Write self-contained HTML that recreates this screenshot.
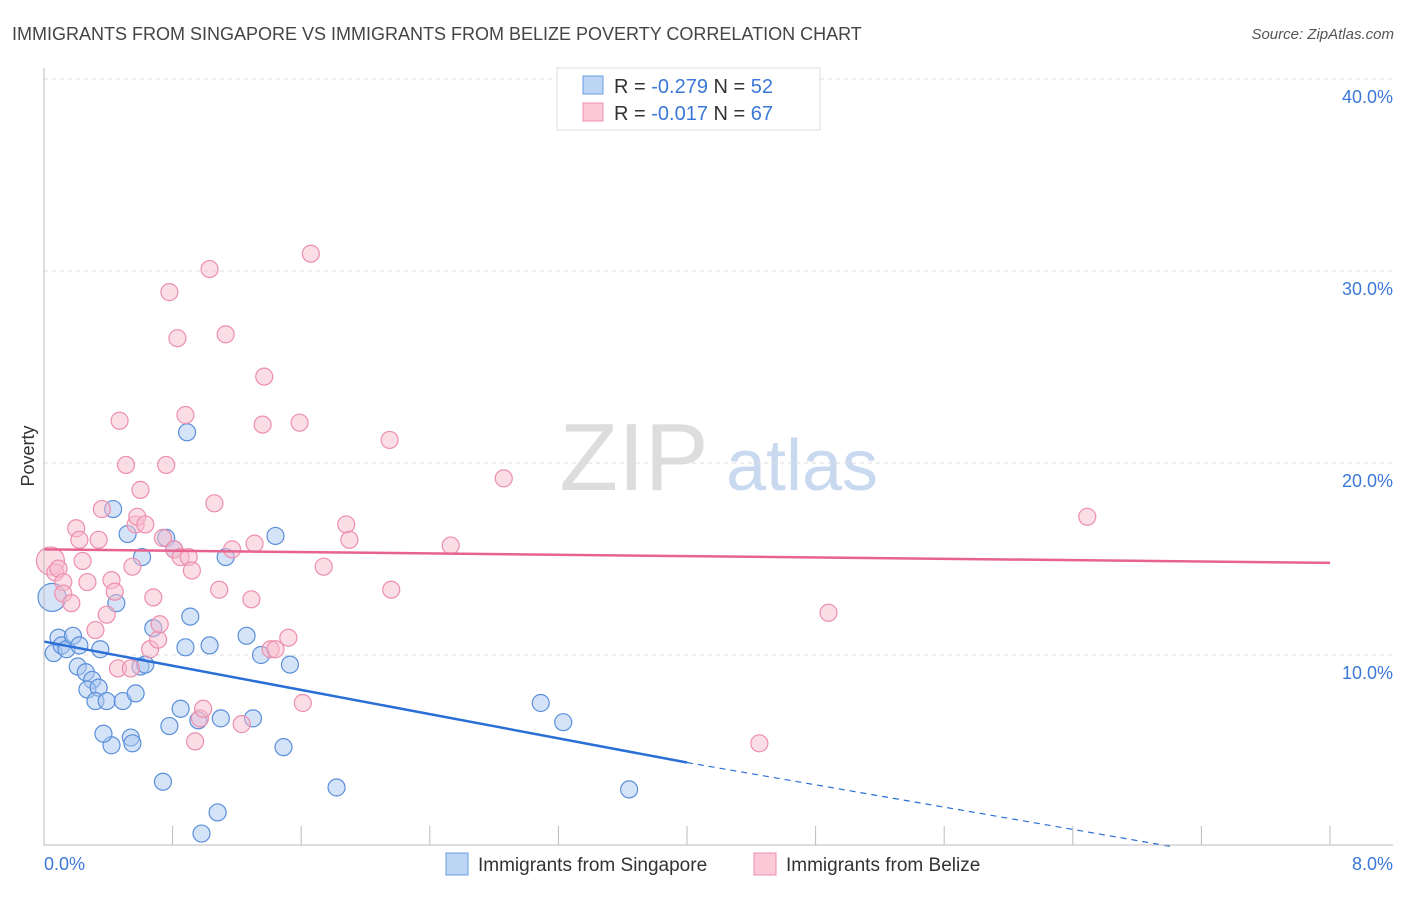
<!DOCTYPE html>
<html><head><meta charset="utf-8"><style>
body{margin:0;background:#fff;font-family:"Liberation Sans",sans-serif}
svg text{font-family:"Liberation Sans",sans-serif}
</style></head><body>
<svg id="c" width="1406" height="892">
<text x="12" y="40" font-size="18" fill="#444">IMMIGRANTS FROM SINGAPORE VS IMMIGRANTS FROM BELIZE POVERTY CORRELATION CHART</text>
<text x="1394" y="39" font-size="15" font-style="italic" fill="#555" text-anchor="end">Source: ZipAtlas.com</text>
<text x="634" y="490" font-size="96" fill="#ddd" font-family="Liberation Serif" text-anchor="middle">ZIP</text>
<text x="802" y="490" font-size="72" fill="#c9d9f0" text-anchor="middle">atlas</text>
<text x="34" y="456" font-size="18" fill="#333" text-anchor="middle" transform="rotate(-90 34 456)">Poverty</text>
<g id="grid"></g><g id="pts"></g><g id="lines"></g>
<line x1="44" y1="68" x2="44" y2="845" stroke="#bbb"/>
<line x1="44" y1="845" x2="1393" y2="845" stroke="#bbb"/>
<text x="44" y="870" font-size="18" fill="#3b78d8">0.0%</text>
<text x="1393" y="870" font-size="18" fill="#3b78d8" text-anchor="end">8.0%</text>
<g>
<rect x="557" y="68" width="263" height="62" fill="#fff" stroke="#ddd"/>
<rect x="583" y="76" width="20" height="18" fill="#bcd5f5" stroke="#6a9de0"/>
<rect x="583" y="103" width="20" height="18" fill="#fbc9d8" stroke="#ee90b0"/>
<text x="614" y="93" font-size="20" fill="#333">R = <tspan fill="#3b78d8">-0.279</tspan>   N = <tspan fill="#3b78d8">52</tspan></text>
<text x="614" y="120" font-size="20" fill="#333">R = <tspan fill="#3b78d8">-0.017</tspan>   N = <tspan fill="#3b78d8">67</tspan></text>
</g>
<g>
<rect x="446" y="853" width="22" height="22" fill="#bcd5f5" stroke="#6a9de0"/>
<text x="478" y="871" font-size="19" fill="#333">Immigrants from Singapore</text>
<rect x="754" y="853" width="22" height="22" fill="#fbc9d8" stroke="#ee90b0"/>
<text x="786" y="871" font-size="19" fill="#333">Immigrants from Belize</text>
</g>
</svg>
<script>
const yTicks=[10,20,30,40];
const xTicks=[0,0.8,1.6,2.4,3.2,4,4.8,5.6,6.4,7.2,8];
const blueX=[.05,.06,.09,.11,.14,.18,.22,.21,.26,.30,.27,.34,.32,.39,.42,.37,.49,.57,.54,.55,.45,.52,.43,.60,.61,.68,.74,.76,.78,.81,.85,.88,.89,.91,.96,.98,1.03,1.08,1.10,1.13,1.26,1.30,1.35,1.44,1.49,1.53,1.82,3.09,3.23,3.64,.63,.35];
const blueY=[13.0,10.1,10.9,10.5,10.3,11.0,10.5,9.4,9.1,8.7,8.2,8.3,7.6,7.6,5.3,5.9,7.6,8.0,5.7,5.4,12.7,16.3,17.6,9.4,15.1,11.4,3.4,16.1,6.3,15.5,7.2,10.4,21.6,12.0,6.6,0.7,10.5,1.8,6.7,15.1,11.0,6.7,10.0,16.2,5.2,9.5,3.1,7.5,6.5,3.0,9.5,10.3];
const pinkX=[.04,.07,.09,.12,.12,.17,.20,.22,.24,.27,.32,.34,.36,.39,.42,.44,.47,.51,.55,.57,.58,.60,.63,.66,.68,.71,.74,.76,.78,.81,.83,.85,.88,.90,.92,.94,.97,.99,1.03,1.06,1.09,1.13,1.17,1.23,1.29,1.31,1.36,1.37,1.41,1.44,1.52,1.59,1.61,1.66,1.74,1.88,1.90,2.15,2.16,2.53,2.86,4.45,4.88,6.49,.46,.54,.72];
const pinkY=[14.9,14.3,14.5,13.8,13.2,12.7,16.6,16.0,14.9,13.8,11.3,16.0,17.6,12.1,13.9,13.3,22.2,19.9,14.6,16.8,17.2,18.6,16.8,10.3,13.0,10.8,16.1,19.9,28.9,15.5,26.5,15.1,22.5,15.1,14.4,5.5,6.7,7.2,30.1,17.9,13.4,26.7,15.5,6.4,12.9,15.8,22.0,24.5,10.3,10.3,10.9,22.1,7.5,30.9,14.6,16.8,16.0,21.2,13.4,15.7,19.2,5.4,12.2,17.2,9.3,9.3,11.6];
const blueTrend=[[0,10.7],[4,4.4],[7.03,0]];
const pinkTrend=[[0,15.5],[8,14.8]];
const NS='http://www.w3.org/2000/svg';
const sx=v=>44+v/8*1286, sy=v=>847-v*19.2;
function mk(t,a,p){const e=document.createElementNS(NS,t);for(const k in a)e.setAttribute(k,a[k]);p.appendChild(e);return e;}
const grid=document.getElementById('grid'),pts=document.getElementById('pts'),lines=document.getElementById('lines');
yTicks.forEach(v=>{
 const l=mk('line',{x1:44,x2:1393,y1:sy(v),y2:sy(v),stroke:'#ddd','stroke-dasharray':'4,4'},grid);
 
 
 const t=mk('text',{x:1393,y:sy(v)+24,'font-size':18,fill:'#3b78d8','text-anchor':'end'},grid);
 t.textContent=v.toFixed(1)+'%';
 
 
});
xTicks.forEach(v=>{
 const l=mk('line',{x1:sx(v),x2:sx(v),y1:826,y2:845,stroke:'#bbb'},grid);
 
 
});
function dots(X,Y,fill,stroke,name){X.forEach((x,i)=>{
 const c=mk('circle',{cx:sx(x),cy:sy(Y[i]),r:i==0?14:8.5,fill:fill,'fill-opacity':0.5,stroke:stroke,'stroke-width':1.2},pts);
 
 
});}
dots(blueX,blueY,'#a9c8f0','#5b8fdb','singapore-point');
dots(pinkX,pinkY,'#f8bccd','#ec8fae','belize-point');
let b=mk('line',{x1:sx(blueTrend[0][0]),y1:sy(blueTrend[0][1]),x2:sx(blueTrend[1][0]),y2:sy(blueTrend[1][1]),stroke:'#2a6fd6','stroke-width':2.5},lines);


let bd=mk('line',{x1:sx(blueTrend[1][0]),y1:sy(blueTrend[1][1]),x2:sx(blueTrend[2][0]),y2:sy(blueTrend[2][1]),stroke:'#2a6fd6','stroke-width':1.2,'stroke-dasharray':'6,5'},lines);


let p=mk('line',{x1:sx(pinkTrend[0][0]),y1:sy(pinkTrend[0][1]),x2:sx(pinkTrend[1][0]),y2:sy(pinkTrend[1][1]),stroke:'#e7628f','stroke-width':2.5},lines);


</script>
</body></html>
